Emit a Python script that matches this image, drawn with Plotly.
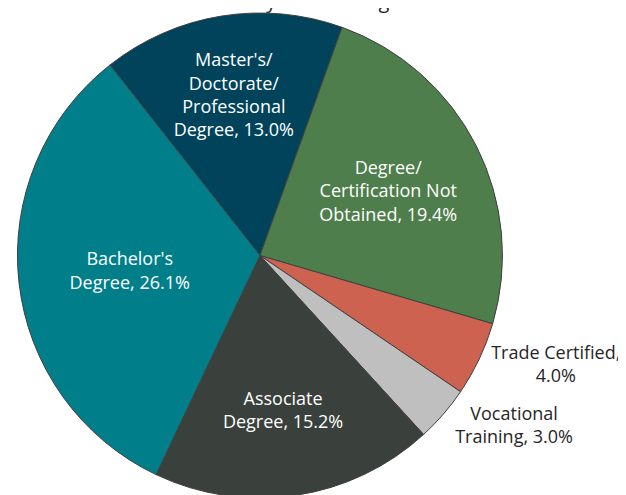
import plotly.graph_objects as go

# slice order, clockwise from the Master's slice
labels = [
    "Master's/Doctorate/Professional Degree",
    "Degree/Certification Not Obtained",
    "Trade Certified",
    "Vocational Training",
    "Associate Degree",
    "Bachelor's Degree",
]
display_labels = [
    "Master's/<br>Doctorate/<br>Professional<br>Degree",
    "Degree/<br>Certification Not<br>Obtained",
    "Trade Certified",
    "Vocational<br>Training",
    "Associate<br>Degree",
    "Bachelor's<br>Degree",
]
values = [13.0, 19.4, 4.0, 3.0, 15.2, 26.1]
colors = ["#00435A", "#4E7E4C", "#CD6251", "#BFBFBF", "#3A413D", "#007F8B"]

text = []
for lab, v in zip(display_labels, values):
    if lab == "Trade Certified":
        text.append(f"{lab},<br>{v:.1f}%")
    else:
        text.append(f"{lab}, {v:.1f}%")

positions = ["inside", "inside", "outside", "outside", "inside", "inside"]

fig = go.Figure(
    go.Pie(
        labels=labels,
        values=values,
        text=text,
        textinfo="text",
        textposition=positions,
        insidetextorientation="horizontal",
        sort=False,
        direction="clockwise",
        rotation=-38.2,
        marker=dict(colors=colors, line=dict(color="#404040", width=1)),
        insidetextfont=dict(color="white", size=18),
        outsidetextfont=dict(color="#262626", size=18),
        domain=dict(x=[0.011, 0.794], y=[0, 1]),
        showlegend=False,
        hoverinfo="label+value",
    )
)

# title sits mostly above the visible area, as in the source image
fig.add_annotation(
    text="Alumni Outcomes by Earned Degree",
    xref="paper", yref="paper",
    x=0.388, y=1, yanchor="bottom", yshift=-3,
    showarrow=False,
    font=dict(size=20, color="#262626"),
)

fig.update_layout(
    width=626,
    height=495,
    margin=dict(l=0, r=0, t=2, b=0),
    font=dict(family="Open Sans, Noto Sans, sans-serif"),
    paper_bgcolor="white",
    plot_bgcolor="white",
)

fig.write_html("out.html")
